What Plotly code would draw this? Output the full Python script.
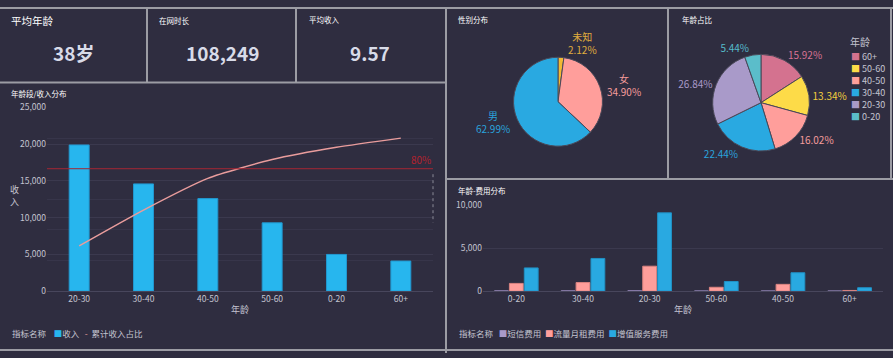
import plotly.graph_objects as go

W, H = 893, 358
BG = "#2f2d40"
GRID = "#3b394e"
TXT = "#c4c4d0"
BORDER = "#9c9ca4"
FONT = "Noto Sans CJK SC"

# ---------------- data ----------------
kpi_titles = ["平均年龄", "在网时长", "平均收入"]
kpi_values = ["38岁", "108,249", "9.57"]

age_groups = ["20-30", "30-40", "40-50", "50-60", "0-20", "60+"]
income = [19900, 14600, 12600, 9300, 5000, 4100]
cum_income_ratio = [0.296, 0.53, 0.737, 0.86, 0.94, 1.0]
ref_ratio = 0.8
income_series = ["收入", "累计收入占比"]

gender_labels = ["未知", "女", "男"]
gender_share = [2.12, 34.90, 62.99]

age_labels = ["60+", "50-60", "40-50", "30-40", "20-30", "0-20"]
age_share = [15.92, 13.34, 16.02, 22.44, 26.84, 5.44]

fee_ages = ["0-20", "30-40", "20-30", "50-60", "40-50", "60+"]
fee_series = ["短信费用", "流量月租费用", "增值服务费用"]
sms_fee = [40, 40, 50, 30, 30, 20]
data_fee = [900, 1000, 2900, 450, 790, 80]
vas_fee = [2700, 3800, 9100, 1120, 2140, 400]

# ---------------- styles ----------------
income_colors = ["#27b6ee", "#e99c9c"]
gender_colors = ["#f2b934", "#ff9e9b", "#29a9e1"]
gender_text = ["#e0ad3e", "#f59c9c", "#2aa3dc"]
age_colors = ["#d4728f", "#fddb48", "#ff9e9b", "#29a9e1", "#a99ac9", "#5bbdca"]
age_text = ["#d77394", "#f2cf3e", "#f59c9c", "#2aa3dc", "#a99ac9", "#56bccb"]
fee_colors = ["#a99ac9", "#ff9e9b", "#29a9e1"]
fee_lines = ["#8e80b0", "#d98380", "#2090c4"]


def px(x):
    return x / W


def py(y):
    return 1 - y / H


fig = go.Figure()

# income bars + cumulative share line
fig.add_trace(go.Bar(
    x=age_groups, y=income, name=income_series[0], width=0.31,
    marker=dict(color=income_colors[0], line=dict(color="#2298d0", width=1)),
    xaxis="x", yaxis="y", showlegend=False, hoverinfo="skip"))
fig.add_trace(go.Scatter(
    x=age_groups, y=cum_income_ratio, name=income_series[1], mode="lines",
    line=dict(color=income_colors[1], width=1.5, shape="spline", smoothing=0.6),
    xaxis="x", yaxis="y2", showlegend=False, hoverinfo="skip"))

# pies
fig.add_trace(go.Pie(
    labels=gender_labels, values=gender_share, sort=False, direction="clockwise",
    rotation=0, showlegend=False, textposition="outside",
    texttemplate="%{label}<br>%{value:.2f}%",
    textfont=dict(size=10, color=gender_text, family=FONT),
    marker=dict(colors=gender_colors, line=dict(color="#4a4858", width=1)),
    domain=dict(x=[px(558 - 46), px(558 + 46)], y=[py(98 + 46), py(98 - 46)]),
    hoverinfo="skip"))
fig.add_trace(go.Pie(
    labels=age_labels, values=age_share, sort=False, direction="clockwise",
    rotation=0, showlegend=False, textposition="outside",
    texttemplate="%{value:.2f}%",
    textfont=dict(size=10, color=age_text, family=FONT),
    marker=dict(colors=age_colors, line=dict(color="#4a4858", width=1)),
    domain=dict(x=[px(761 - 50), px(761 + 50)], y=[py(99 + 50), py(99 - 50)]),
    hoverinfo="skip"))

# fee bars
for name, vals, c, lc in zip(fee_series, [sms_fee, data_fee, vas_fee], fee_colors, fee_lines):
    fig.add_trace(go.Bar(x=fee_ages, y=vals, name=name,
                         marker=dict(color=c, line=dict(color=lc, width=1)),
                         xaxis="x3", yaxis="y3", showlegend=False, hoverinfo="skip"))

axis_font = dict(family=FONT, size=8.5, color=TXT)

shapes = []


def line(x0, y0, x1, y1, color=BORDER, width=2, dash=None):
    d = dict(type="line", xref="paper", yref="paper",
             x0=px(x0), y0=py(y0), x1=px(x1), y1=py(y1),
             line=dict(color=color, width=width), layer="above")
    if dash:
        d["line"]["dash"] = dash
    shapes.append(d)


# panel borders
line(0, 1, 893, 1)
line(0, 78, 445, 78)
line(147, 1, 147, 78)
line(296, 1, 296, 78)
line(446, 0, 446, 358)
line(445, 178, 893, 178)
line(668, 0, 668, 178)
line(891, 0, 891, 178, width=2)
line(0, 355, 893, 355)
# dotted scroll marker on the income chart
line(433, 173, 433, 223, color="#8a8a96", width=1, dash="dot")

# 80% reference line
shapes.append(dict(type="line", xref="x domain", yref="y2", x0=0, x1=1,
                   y0=ref_ratio, y1=ref_ratio,
                   line=dict(color="#a32431", width=1), layer="above"))

annotations = []


def text(x, y, s, size, color="#ffffff", xanchor="left", yanchor="middle", bold=False):
    if bold:
        s = "<b>" + s + "</b>"
    annotations.append(dict(x=px(x), y=py(y), xref="paper", yref="paper", text=s,
                            showarrow=False, xanchor=xanchor, yanchor=yanchor,
                            font=dict(family=FONT, size=size, color=color)))


def swatch(c, s="■"):
    return "<span style='color:%s'>%s</span>" % (c, s)


# KPI
text(9, 14, kpi_titles[0], 10.5)
text(157, 14, kpi_titles[1], 7.5)
text(307, 13, kpi_titles[2], 7.5)
kpi_cx = [73, 222, 370]
for cx, v in zip(kpi_cx, kpi_values):
    text(cx, 47, v, 19, color="#d8dbe8", xanchor="center", bold=True)

# chart titles
text(9, 89, "年龄段/收入分布", 7.5)
text(456, 13, "性别分布", 7.5)
text(680, 13, "年龄占比", 7.5)
text(456, 190, "年龄-费用分布", 7.5)
# y-axis title for income
text(14, 195, "收<br>入", 9, color=TXT, xanchor="center")
# 80% label
annotations.append(dict(x=1, y=ref_ratio, xref="x domain", yref="y2", text="80%",
                        showarrow=False, xanchor="right", yanchor="bottom", yshift=0,
                        font=dict(family=FONT, size=10, color="#b3222f")))

# legends (compact, built from the series names)
leg1 = "指标名称    " + swatch(income_colors[0]) + income_series[0] + "   " + \
       swatch(income_colors[1], "-") + "  " + income_series[1]
text(10, 337, leg1, 8.5, color=TXT)
leg3 = "指标名称   " + "  ".join(swatch(c) + n for c, n in zip(fee_colors, fee_series))
text(457, 337, leg3, 8.5, color=TXT)
text(848, 36, "年龄", 10, color=TXT)
for i, (lab, c) in enumerate(zip(age_labels, age_colors)):
    text(849, 51 + 12.5 * i, swatch(c) + " " + lab, 9, color=TXT)

fig.update_layout(
    width=W, height=H, autosize=False,
    margin=dict(l=0, r=0, t=0, b=0),
    paper_bgcolor=BG, plot_bgcolor="rgba(0,0,0,0)",
    font=dict(family=FONT, color=TXT),
    barmode="group", bargap=0.33, bargroupgap=0.07,
    showlegend=False,
    xaxis=dict(domain=[px(47), px(433)], anchor="y", tickfont=axis_font,
               showgrid=False, showline=True, linecolor="#48465c", linewidth=1,
               ticks="", title=dict(text="年龄", font=dict(family=FONT, size=9, color=TXT), standoff=3),
               fixedrange=True),
    yaxis=dict(domain=[py(294), py(104)], range=[0, 25000], dtick=5000, tickformat=",",
               tickfont=axis_font, gridcolor=GRID, gridwidth=1, zeroline=False,
               showline=False, ticks="", fixedrange=True, anchor="x"),
    yaxis2=dict(overlaying="y", side="right", anchor="x", range=[0, 1.2], dtick=0.2,
                showticklabels=False, gridcolor="#37354a", gridwidth=1, zeroline=False,
                showline=False, ticks="", fixedrange=True),
    xaxis3=dict(domain=[px(483), px(883)], anchor="y3", tickfont=axis_font,
                showgrid=False, showline=True, linecolor="#48465c", linewidth=1,
                ticks="", title=dict(text="年龄", font=dict(family=FONT, size=9, color=TXT), standoff=3),
                fixedrange=True),
    yaxis3=dict(domain=[py(294), py(205)], range=[0, 10000], dtick=5000, tickformat=",",
                anchor="x3", tickfont=axis_font, gridcolor=GRID, gridwidth=1, zeroline=False,
                showline=False, ticks="", fixedrange=True),
    shapes=shapes,
    annotations=annotations,
)

fig.write_html("out.html", config={"displayModeBar": False},
               post_script="document.body.style.margin='0';document.body.style.overflow='hidden';")
